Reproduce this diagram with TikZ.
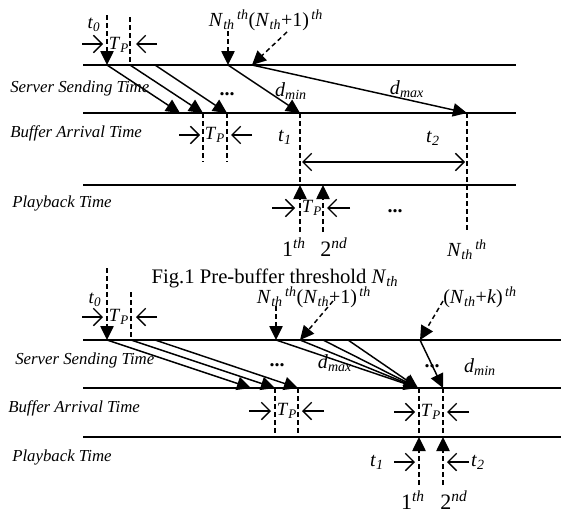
\documentclass[tikz,border=0pt]{standalone}
\usepackage{fontspec}
\setmainfont{Liberation Serif}
\usetikzlibrary{arrows.meta}
\newcommand{\Nth}{\textit{N}\textsubscript{\textit{th}}}
\newcommand{\TP}{\textit{T}\textsubscript{\textit{P}}}
\newcommand{\supth}[1]{#1\textsuperscript{\,\textit{th}}}
\begin{document}
\begin{tikzpicture}[x=0.75pt,y=-0.75pt,
  axis/.style={line width=1.2pt},
  dsh/.style={line width=1.1pt,dash pattern=on 3.5pt off 2.5pt},
  arr/.style={line width=1.1pt,-{Triangle[length=10.5pt,width=10pt]}},
  darr/.style={dsh,-{Triangle[length=10.5pt,width=10pt]}},
  gapin/.style={line width=1pt,-{Straight Barb[length=6.5pt,width=13pt]}},
  both/.style={line width=1pt,{Straight Barb[length=6.5pt,width=13pt]}-{Straight Barb[length=6.5pt,width=13pt]}},
  lab/.style={inner sep=0pt,font=\fontsize{15}{16}\selectfont},
  tlab/.style={inner sep=0pt,font=\fontsize{14}{15}\selectfont},
  nlab/.style={inner sep=0pt,font=\fontsize{16.5}{18}\selectfont},
  axlab/.style={inner sep=0pt,anchor=west,font=\fontsize{12.6}{14}\selectfont\itshape},
  caplab/.style={inner sep=0pt,font=\fontsize{15.5}{17}\selectfont}
]
\useasboundingbox (0,0) rectangle (561,514);
% ================= top diagram =================
\coordinate (S1a) at (83,65);  \coordinate (S1b) at (516,65);
\coordinate (B1a) at (83,113); \coordinate (B1b) at (516,113);
\coordinate (P1a) at (83,185); \coordinate (P1b) at (516,185);
\draw[axis] (S1a) -- (S1b);
\draw[axis] (B1a) -- (B1b);
\draw[axis] (P1a) -- (P1b);
\node[axlab] (srv1) at (10,88) {Server Sending Time};
\node[axlab] (buf1) at (10,133) {Buffer Arrival Time};
\node[axlab] (ply1) at (12,203) {Playback Time};

% t0 and TP at server
\coordinate (a1top) at (107,15); \coordinate (a1) at (107,65);
\coordinate (a2top) at (130,17); \coordinate (a2) at (130,65);
\coordinate (a3) at (155,65);
\draw[darr] (a1top) -- (a1);
\draw[dsh] (a2top) -- (a2);
\node[tlab] (t0a) at (94,25) {\textit{t}\textsubscript{\textit{0}}};
\node[tlab] (tp1) at (119,45) {\TP};
\coordinate (g1l) at (82,44); \coordinate (g1lt) at (103,44);
\coordinate (g1r) at (157,44); \coordinate (g1rt) at (136,44);
\draw[gapin] (g1l) -- (g1lt);
\draw[gapin] (g1r) -- (g1rt);

% slanted arrows
\coordinate (b1) at (180,113); \coordinate (b2) at (203,113); \coordinate (b3) at (227,113);
\draw[arr] (a1) -- (b1);
\draw[arr] (a2) -- (b2);
\draw[arr] (a3) -- (b3);
\node[lab] (dots1) at (227,94) {\textbf{...}};
\coordinate (b2d) at (203,162); \coordinate (b3d) at (227,162);
\draw[dsh] (b2) -- (b2d);
\draw[dsh] (b3) -- (b3d);
\node[tlab] (tp2) at (215,135) {\TP};
\coordinate (g2l) at (179,135); \coordinate (g2lt) at (200,135);
\coordinate (g2r) at (252,135); \coordinate (g2rt) at (231,135);
\draw[gapin] (g2l) -- (g2lt);
\draw[gapin] (g2r) -- (g2rt);

% Nth arrows
\node[lab] (nlab1) at (266,20) {\supth{\Nth}(\Nth+1)\textsuperscript{\,\textit{th}}};
\coordinate (n1top) at (228,31); \coordinate (n1) at (228,65);
\coordinate (n2top) at (287,32); \coordinate (n2) at (252,65);
\draw[darr] (n1top) -- (n1);
\draw[darr] (n2top) -- (n2);
\coordinate (c1) at (300,113); \coordinate (c2) at (467,113);
\draw[arr] (n1) -- (c1);
\draw[arr] (n2) -- (c2);
\node[lab] (dmin1) at (291,91) {\textit{d}\textsubscript{\textit{min}}};
\node[lab] (dmax1) at (407,89) {\textit{d}\textsubscript{\textit{max}}};

% t1 t2
\coordinate (c1p) at (300,185); \coordinate (c1d) at (300,232);
\coordinate (c2d) at (467,232);
\coordinate (c3p) at (323,185); \coordinate (c3d) at (323,232);
\draw[dsh] (c1) -- (c1p);
\draw[darr] (c1d) -- (c1p);
\draw[darr] (c3d) -- (c3p);
\draw[dsh] (c2) -- (c2d);
\coordinate (dl) at (302,162); \coordinate (dr) at (465,162);
\draw[both] (dl) -- (dr);
\node[lab] (t1a) at (285,137) {\textit{t}\textsubscript{\textit{1}}};
\node[lab] (t2a) at (433,138) {\textit{t}\textsubscript{\textit{2}}};
\node[tlab] (tp3) at (312,208) {\TP};
\coordinate (g3l) at (272,208); \coordinate (g3lt) at (295,208);
\coordinate (g3r) at (350,208); \coordinate (g3rt) at (327,208);
\draw[gapin] (g3l) -- (g3lt);
\draw[gapin] (g3r) -- (g3rt);
\node[lab] (dots2) at (395,211) {\textbf{...}};
\node[nlab] (first1) at (294,247) {1\textsuperscript{\textit{th}}};
\node[nlab] (second1) at (334,247) {2\textsuperscript{\textit{nd}}};
\node[lab] (nth1) at (467,250) {\supth{\Nth}};

% caption
\node[caplab] (cap) at (275,278) {Fig.1 Pre-buffer threshold \Nth};

% ================= bottom diagram =================
\coordinate (S2a) at (83,340);  \coordinate (S2b) at (561,340);
\coordinate (B2a) at (83,388); \coordinate (B2b) at (561,388);
\coordinate (P2a) at (83,437); \coordinate (P2b) at (561,437);
\draw[axis] (S2a) -- (S2b);
\draw[axis] (B2a) -- (B2b);
\draw[axis] (P2a) -- (P2b);
\node[axlab] (srv2) at (15,360) {Server Sending Time};
\node[axlab] (buf2) at (8,408) {Buffer Arrival Time};
\node[axlab] (ply2) at (12,457) {Playback Time};

\coordinate (e1top) at (107,268); \coordinate (e1) at (107,340);
\coordinate (e2top) at (131,292); \coordinate (e2) at (131,340);
\coordinate (e3) at (155,340);
\draw[darr] (e1top) -- (e1);
\draw[dsh] (e2top) -- (e2);
\node[tlab] (t0b) at (95,300) {\textit{t}\textsubscript{\textit{0}}};
\node[tlab] (tp4) at (119,317) {\TP};
\coordinate (g4l) at (82,317); \coordinate (g4lt) at (103,317);
\coordinate (g4r) at (157,317); \coordinate (g4rt) at (136,317);
\draw[gapin] (g4l) -- (g4lt);
\draw[gapin] (g4r) -- (g4rt);

\coordinate (f1) at (251,388); \coordinate (f2) at (275,388); \coordinate (f3) at (298,388);
\draw[arr] (e1) -- (f1);
\draw[arr] (e2) -- (f2);
\draw[arr] (e3) -- (f3);
\node[lab] (dots3) at (277,365) {\textbf{...}};
\coordinate (f2d) at (275,437); \coordinate (f3d) at (298,437);
\draw[dsh] (f2) -- (f2d);
\draw[dsh] (f3) -- (f3d);
\node[tlab] (tp5) at (287,411) {\TP};
\coordinate (g5l) at (249,411); \coordinate (g5lt) at (271,411);
\coordinate (g5r) at (324,411); \coordinate (g5rt) at (302,411);
\draw[gapin] (g5l) -- (g5lt);
\draw[gapin] (g5r) -- (g5rt);

% Nth arrows
\node[lab] (nlab2) at (314,297) {\supth{\Nth}(\Nth+1)\textsuperscript{\,\textit{th}}};
\coordinate (m1top) at (276,306); \coordinate (m1) at (276,340);
\coordinate (m2top) at (333,301); \coordinate (m2) at (300,340);
\coordinate (m3) at (323,340); \coordinate (m4) at (348,340);
\draw[darr] (m1top) -- (m1);
\draw[darr] (m2top) -- (m2);
\coordinate (h1) at (418,388);
\draw[arr] (m1) -- (h1);
\draw[arr] (m2) -- (h1);
\draw[arr] (m3) -- (h1);
\draw[arr] (m4) -- (h1);
\node[lab] (dmax2) at (335,363) {\textit{d}\textsubscript{\textit{max}}};
\node[lab] (nklab) at (480,297) {(\Nth+\textit{k})\textsuperscript{\,\textit{th}}};
\coordinate (ktop) at (443,301); \coordinate (k1) at (420,340);
\draw[darr] (ktop) -- (k1);
\coordinate (h2) at (443,388);
\draw[arr] (k1) -- (h2);
\node[lab] (dots4) at (432,366) {\textbf{...}};
\node[lab] (dmin2) at (480,367) {\textit{d}\textsubscript{\textit{min}}};

% TP at buffer and playback
\coordinate (h1p) at (419,437); \coordinate (h2p) at (443,437);
\coordinate (h1d) at (419,485); \coordinate (h2d) at (443,485);
\coordinate (h1b) at (419,388);
\draw[dsh] (h1b) -- (h1p);
\draw[dsh] (h2) -- (h2p);
\draw[darr] (h1d) -- (h1p);
\draw[darr] (h2d) -- (h2p);
\node[tlab] (tp6) at (431,412) {\TP};
\coordinate (g6l) at (394,412); \coordinate (g6lt) at (415,412);
\coordinate (g6r) at (469,412); \coordinate (g6rt) at (447,412);
\draw[gapin] (g6l) -- (g6lt);
\draw[gapin] (g6r) -- (g6rt);
\coordinate (g7l) at (394,462); \coordinate (g7lt) at (415,462);
\coordinate (g7r) at (469,462); \coordinate (g7rt) at (447,462);
\draw[gapin] (g7l) -- (g7lt);
\draw[gapin] (g7r) -- (g7rt);
\node[lab] (t1b) at (377,462) {\textit{t}\textsubscript{\textit{1}}};
\node[lab] (t2b) at (478,462) {\textit{t}\textsubscript{\textit{2}}};
\node[nlab] (first2) at (413,500) {1\textsuperscript{\textit{th}}};
\node[nlab] (second2) at (454,500) {2\textsuperscript{\textit{nd}}};
\end{tikzpicture}
\end{document}
